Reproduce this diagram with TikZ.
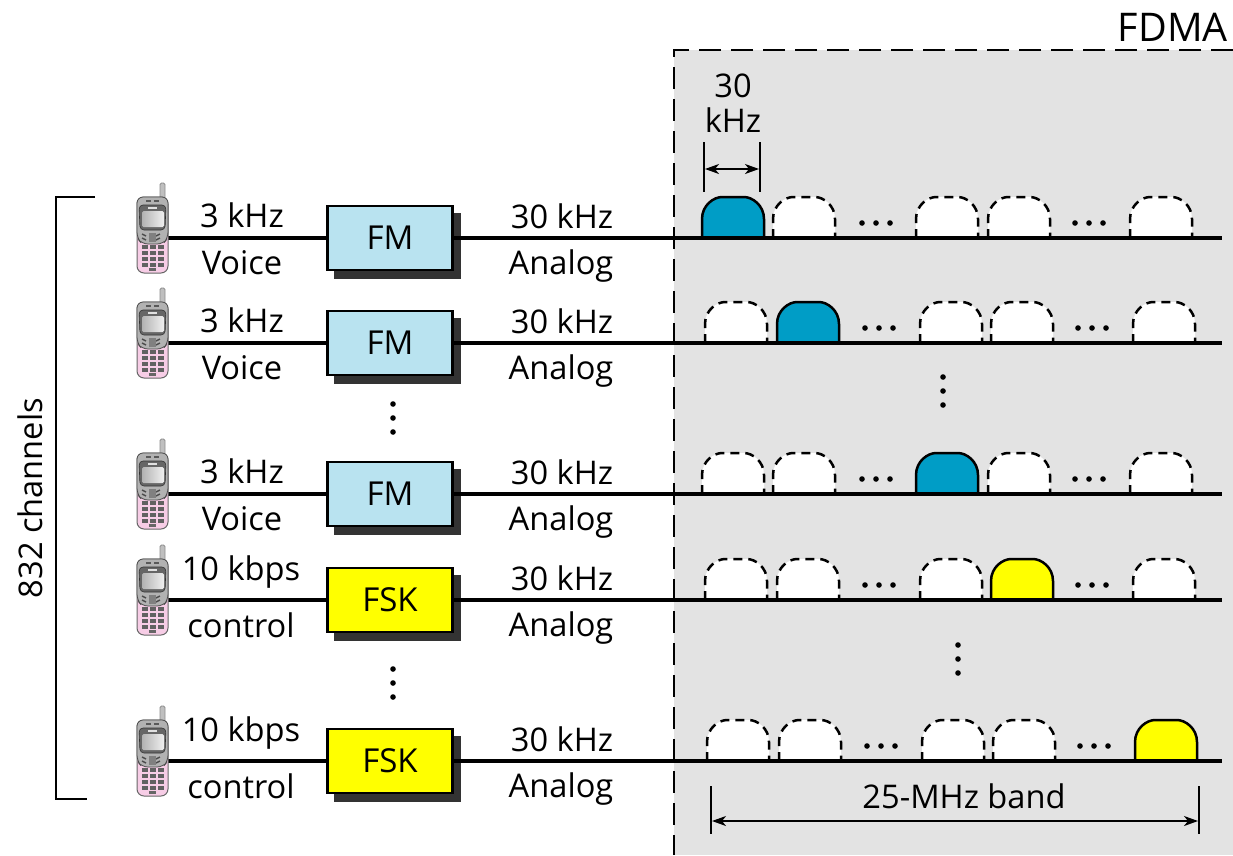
\documentclass[tikz,border=0pt]{standalone}
\usepackage{fontspec}
\setmainfont{Open Sans}
\usetikzlibrary{arrows.meta}
\definecolor{panel}{HTML}{E3E3E3}
\definecolor{fmblue}{HTML}{B9E3F0}
\definecolor{wavebl}{HTML}{009DC6}
\definecolor{waveye}{HTML}{FFFF00}
\definecolor{pinkph}{HTML}{F7CDE6}
\definecolor{shad}{HTML}{333333}
\tikzset{
  x=1pt,y=-1pt,
  wire/.style={line width=3.6pt,black},
  lbl/.style={font=\fontsize{32.6}{32.6}\selectfont,inner sep=0pt,anchor=center,text=black},
  modbox/.style={draw=black,line width=2.6pt,minimum width=125pt,minimum height=64pt,inner sep=0pt,font=\fontsize{33}{33}\selectfont},
  fmbox/.style={modbox,fill=fmblue},
  fskbox/.style={modbox,fill=waveye},
  boxshadow/.style={fill=shad,draw=none,minimum width=127pt,minimum height=66pt,inner sep=0pt},
  dim/.style={line width=1.9pt,black},
  dimarrow/.style={line width=1.5pt,black,{Stealth[length=14pt,width=10pt,inset=4pt]}-{Stealth[length=14pt,width=10pt,inset=4pt]}},
  pics/phone/.style={code={
    \draw[fill=black!25,draw=black!45,line width=.8pt,rounded corners=1.5pt] (21,-55) rectangle (26,-38);
    \draw[fill=pinkph,draw=black!60,line width=1pt,rounded corners=7pt] (-2,-41) rectangle (29,35);
    \draw[fill=black!30,draw=black!70,line width=.8pt,rounded corners=6pt] (-2,0) -- (-2,-41) -- (29,-41) -- (29,0) -- (24,6) -- (3,6) -- cycle;
    \draw[fill=black!60,draw=black!80,line width=.6pt,rounded corners=4pt] (0,-33) -- (27,-33) -- (26,-8) -- (1,-8) -- cycle;
    \shade[left color=black!30,right color=black!6,rounded corners=1.5pt] (3,-27) rectangle (25,-11);
    \fill[black!12] (9,-31) rectangle (18,-29);
    \fill[black!65] (7,-38) rectangle (12,-36);
    \fill[black!65] (15,-38) rectangle (20,-36);
    \foreach \kx/\kd in {3/1,21/-1} \draw[black!70,line width=1.4pt] (\kx,-4) -- ++(\kd*4,2) (\kx,0) -- ++(\kd*4,2);
    \fill[black!50] (10,-5) rectangle (17,4);
    \foreach \ky in {7,13,19,25} \foreach \kx in {3,11,19}
      \fill[black!62] (\kx,\ky) rectangle +(6,3.6);
    \fill[black!60] (10,30) rectangle (17,32.5);
  }}
}
\newcommand{\wave}[4]{% x, baseline y, fill, style
  \path[#3,#4] (#1,#2) -- (#1,#2-19) .. controls (#1,#2-33) and (#1+12,#2-41) .. (#1+20,#2-41)
     -- (#1+42,#2-41) .. controls (#1+50,#2-41) and (#1+62,#2-33) .. (#1+62,#2-19) -- (#1+62,#2);
}
\newcommand{\emptywave}[2]{\wave{#1}{#2}{fill=white}{draw=black,line width=2.5pt,dash pattern=on 9pt off 6pt}}
\newcommand{\fullwave}[3]{\wave{#1}{#2}{fill=#3}{draw=black,line width=2.5pt}}
\newcommand{\hdotrow}[2]{\foreach \dd in {0,14,28}{\fill[black] (#1+\dd+2,#2-15) circle (2.8pt);}}
\newcommand{\vdotrow}[2]{\foreach \dd in {0,14,28}{\fill[black] (#1,#2+\dd+2) circle (2.8pt);}}
\begin{document}
\begin{tikzpicture}
\useasboundingbox (0,0) rectangle (1233,855);
\fill[panel] (674,50) rectangle (1233,855);
\draw[line width=2.4pt,dash pattern=on 22pt off 10pt] (1233,50) -- (674,50) -- (674,855);
\node[lbl,anchor=east,font=\fontsize{39.5}{39.5}\selectfont] (fdma) at (1228,27) {FDMA};

% bracket
\coordinate (brA) at (95,197);
\coordinate (brB) at (56,197);
\coordinate (brC) at (56,799);
\coordinate (brD) at (87,799);
\draw[line width=2.2pt] (brA) -- (brB) -- (brC) -- (brD);
\node[lbl,rotate=90] (chan) at (30,498) {832 channels};

% dimension 30 kHz
\node[lbl,align=center,font=\fontsize{32.6}{35}\selectfont] (khz) at (733,103) {30\\kHz};
\coordinate (ta1) at (704,142); \coordinate (ta2) at (704,192);
\coordinate (tb1) at (760,142); \coordinate (tb2) at (760,192);
\draw[dim] (ta1) -- (ta2); \draw[dim] (tb1) -- (tb2);
\coordinate (aa) at (705,169); \coordinate (ab) at (759,169);
\draw[dimarrow] (aa) -- (ab);

% dimension 25 MHz
\coordinate (tc1) at (711,786); \coordinate (tc2) at (711,834);
\coordinate (td1) at (1199,786); \coordinate (td2) at (1199,834);
\draw[dim] (tc1) -- (tc2); \draw[dim] (td1) -- (td2);
\coordinate (ac) at (712,821); \coordinate (ad) at (1198,821);
\draw[dimarrow] (ac) -- (ad);
\node[lbl] (band) at (964,796) {25-MHz band};

% rows
\foreach \nm/\ry/\st/\bt/\ta/\tb/\tx/\uo in {
   a/238/fmbox/FM/3 kHz/Voice/242/23,
   b/343/fmbox/FM/3 kHz/Voice/242/23,
   c/494/fmbox/FM/3 kHz/Voice/242/23,
   d/600/fskbox/FSK/10 kbps/control/241/28,
   e/761/fskbox/FSK/10 kbps/control/241/28}{
  \coordinate (end\nm) at (1222,\ry);
  \coordinate (ph\nm) at (166,\ry);
  \node[boxshadow] (sh\nm) at (397,\ry+8) {};
  \node[\st] (box\nm) at (390,\ry) {\bt};
  \draw[wire] (ph\nm) -- (box\nm);
  \draw[wire] (box\nm) -- (end\nm);
  \pic at (139,\ry) {phone};
  \node[lbl] (up\nm) at (\tx,\ry-\uo) {\ta};
  \node[lbl] (lo\nm) at (\tx,\ry+25) {\tb};
  \node[lbl] (fr\nm) at (562,\ry-22) {30 kHz};
  \node[lbl] (an\nm) at (561,\ry+28) {Analog};
}

% waves
\fullwave{702}{238}{wavebl}
\emptywave{773}{238}\emptywave{916}{238}\emptywave{988}{238}\emptywave{1130}{238}
\hdotrow{860}{238}\hdotrow{1073}{238}

\emptywave{705}{343}\fullwave{777}{343}{wavebl}
\emptywave{920}{343}\emptywave{991}{343}\emptywave{1133}{343}
\hdotrow{863}{343}\hdotrow{1076}{343}

\emptywave{702}{494}\emptywave{773}{494}\fullwave{916}{494}{wavebl}
\emptywave{988}{494}\emptywave{1130}{494}
\hdotrow{860}{494}\hdotrow{1073}{494}

\emptywave{705}{600}\emptywave{777}{600}\emptywave{920}{600}
\fullwave{991}{600}{waveye}\emptywave{1133}{600}
\hdotrow{863}{600}\hdotrow{1076}{600}

\emptywave{707}{761}\emptywave{779}{761}\emptywave{922}{761}\emptywave{993}{761}
\fullwave{1135}{761}{waveye}
\hdotrow{865}{761}\hdotrow{1078}{761}

% wire on top of wave bases
\foreach \nm in {a,b,c,d,e}{\draw[wire] (box\nm.east) -- (end\nm);}

\vdotrow{393}{402}\vdotrow{943}{375}\vdotrow{393}{667}\vdotrow{958}{643}
\end{tikzpicture}
\end{document}
